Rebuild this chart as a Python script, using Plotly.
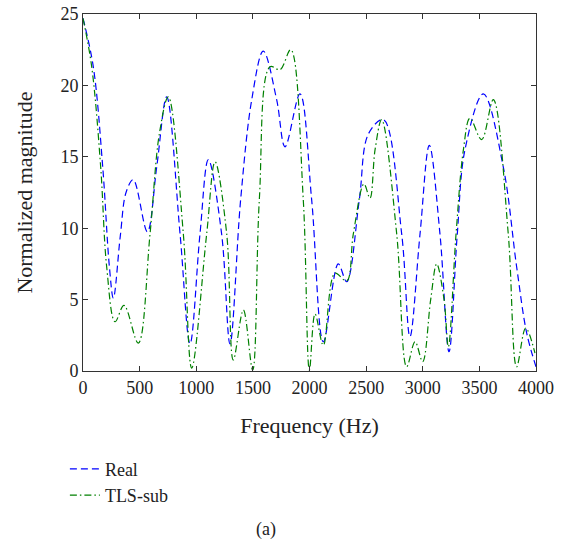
import plotly.graph_objects as go

# --- datos ---
real_freq = [0, 91, 174, 233, 268, 330, 380, 444, 568, 651, 739, 857, 945, 1033, 1107,
             1224, 1298, 1392, 1490, 1592, 1710, 1784, 1916, 2019, 2122, 2254, 2328,
             2440, 2520, 2652, 2814, 2887, 2976, 3058, 3152, 3232, 3305, 3373, 3535,
             3711, 3829, 3918, 4000]
real_mag = [24.7, 21.3, 14.3, 7.3, 5.1, 9.5, 12.5, 13.4, 9.75, 14.3, 19.2, 9.6, 1.9, 9.6, 14.8,
            9.6, 1.9, 12.0, 19.0, 22.4, 19.0, 15.7, 19.4, 12.0, 2.05, 7.5, 6.25,
            12.0, 16.6, 17.6, 9.6, 2.4, 9.6, 15.8, 9.6, 1.35, 9.6, 15.5, 19.4,
            14.3, 7.3, 2.65, 0.3]

tls_freq = [0, 77, 156, 209, 283, 362, 488, 592, 674, 753, 886, 960, 1092, 1166, 1269,
            1327, 1416, 1498, 1557, 1651, 1740, 1834, 1945, 1999, 2049, 2122, 2225,
            2328, 2387, 2481, 2534, 2579, 2637, 2770, 2858, 2932, 2999, 3070, 3123,
            3188, 3226, 3294, 3359, 3417, 3520, 3623, 3755, 3829, 3909, 3991]
tls_mag = [24.7, 21.3, 14.3, 7.3, 3.45, 4.6, 1.95, 9.6, 16.6, 19.2, 9.6, 0.2, 9.6, 14.65, 9.6,
           0.77, 4.27, 0.07, 12.0, 21.3, 21.1, 22.5, 12.0, 0.07, 4.0, 1.8, 6.85,
           6.3, 9.6, 13.1, 12.1, 15.5, 17.6, 9.6, 0.3, 2.05, 0.65, 5.0, 7.5,
           5.0, 1.7, 9.6, 15.5, 17.7, 16.2, 19.0, 9.6, 0.3, 3.0, 1.25]

x_ticks = [0, 500, 1000, 1500, 2000, 2500, 3000, 3500, 4000]
y_ticks = [0, 5, 10, 15, 20, 25]

FONT = "Liberation Serif"

fig = go.Figure()
fig.add_trace(go.Scatter(
    x=real_freq, y=real_mag, name="Real", mode="lines",
    line=dict(color="#0000FF", width=1.2, dash="7px,4px", shape="spline", smoothing=1.0),
))
fig.add_trace(go.Scatter(
    x=tls_freq, y=tls_mag, name="TLS-sub", mode="lines",
    line=dict(color="#008000", width=1.2, dash="7px,3px,1.5px,3px", shape="spline", smoothing=1.0),
))

axis_common = dict(
    showgrid=False, zeroline=False, showline=True, linecolor="#333333", linewidth=1,
    mirror="ticks", ticks="inside", ticklen=5, tickcolor="#333333",
    automargin=False, ticklabeloverflow="allow",
    tickfont=dict(family=FONT, size=18, color="#222222"),
)

fig.update_layout(
    width=567, height=544,
    margin=dict(l=83, r=31, t=14, b=173),
    paper_bgcolor="white", plot_bgcolor="white",
    font=dict(family=FONT, size=18, color="#222222"),
    xaxis=dict(range=[0, 4000], tickvals=x_ticks,
               title=dict(text="Frequency (Hz)", standoff=21), **axis_common),
    yaxis=dict(range=[0, 25], tickvals=y_ticks,
               title=dict(text="Normalized magnitude", standoff=21), **axis_common),
    legend=dict(x=-0.04, y=-0.223, xanchor="left", yanchor="top",
                bgcolor="rgba(0,0,0,0)", font=dict(family=FONT, size=18),
                itemwidth=30, tracegroupgap=0),
    showlegend=True,
    annotations=[dict(text="(a)", xref="paper", yref="paper", x=0.404, y=-0.443,
                      xanchor="center", yanchor="middle", showarrow=False,
                      font=dict(family=FONT, size=18))],
)

# quitar el margen por defecto del body para que la figura ocupe toda la ventana
fig.write_html("out.html", config={"displayModeBar": False},
               post_script="document.body.style.margin='0';")
